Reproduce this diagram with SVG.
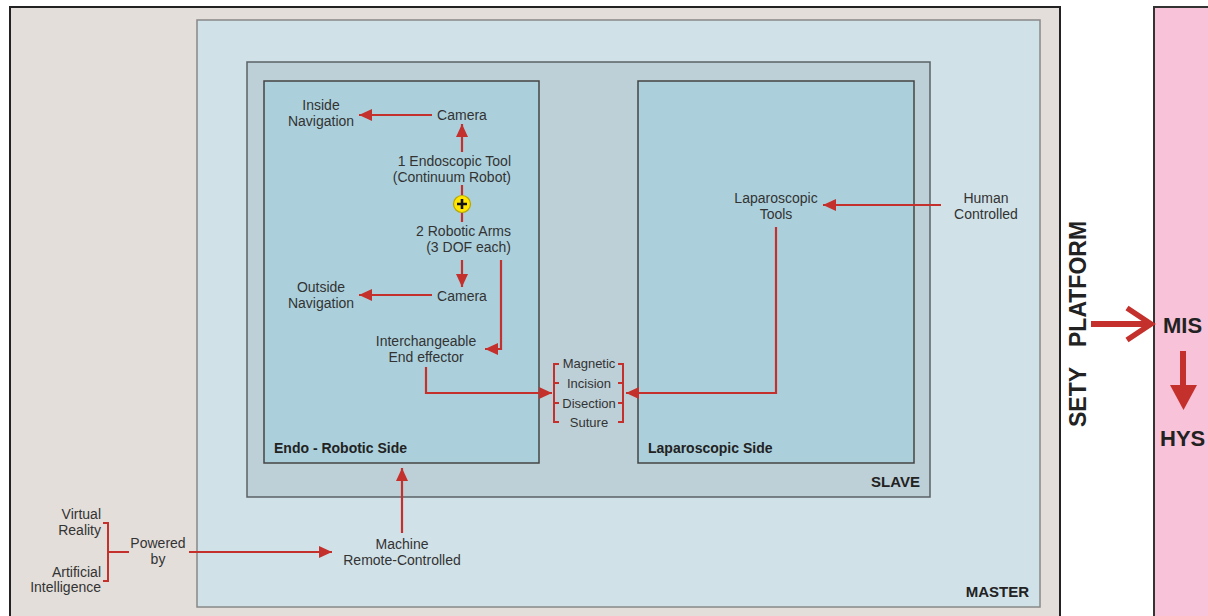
<svg xmlns="http://www.w3.org/2000/svg" width="1208" height="616" viewBox="0 0 1208 616">
<defs>
<style>
text{font-family:"Liberation Sans",Arial,sans-serif;fill:#333;font-size:14px}
.c{text-anchor:middle}
.e{text-anchor:end}
.b{font-weight:bold;fill:#222}
.s{font-size:13px}
.big{font-size:22px;font-weight:bold;fill:#222}
.ln{fill:none;stroke:#c4302b;stroke-width:2.2}
.br{fill:none;stroke:#c4302b;stroke-width:2}
</style>
<marker id="ah" markerUnits="userSpaceOnUse" markerWidth="14" markerHeight="12" refX="13" refY="6" orient="auto">
<path d="M0,0 L13,6 L0,12 z" fill="#c4302b"/>
</marker>
</defs>
<rect width="1208" height="616" fill="#ffffff"/>
<g id="outer">
<rect x="10" y="7" width="1050" height="620" fill="#e3deda" stroke="#222" stroke-width="2"/>
</g>
<g id="pink">
<rect x="1154" y="7" width="70" height="620" fill="#f8c2d9" stroke="#333" stroke-width="2"/>
</g>
<g id="master">
<rect x="197" y="20" width="843" height="587" fill="#d0e1e8" stroke="#888" stroke-width="1.5"/>
<text class="b e" x="1029" y="597" style="font-size:15px">MASTER</text>
</g>
<g id="slave">
<rect x="247" y="62" width="683" height="435" fill="#bdd0d7" stroke="#5a6266" stroke-width="1.5"/>
<text class="b e" x="920" y="487" style="font-size:15px">SLAVE</text>
</g>
<g id="endo-side">
<rect x="264" y="81" width="275" height="382" fill="#abd0dc" stroke="#444" stroke-width="1.5"/>
<text class="b" x="274" y="453">Endo - Robotic Side</text>
</g>
<g id="lap-side">
<rect x="638" y="81" width="276" height="382" fill="#abd0dc" stroke="#444" stroke-width="1.5"/>
<text class="b" x="648" y="453">Laparoscopic Side</text>
</g>
<g id="inside-nav"><text class="c" x="321" y="110">Inside</text><text class="c" x="321" y="126">Navigation</text></g>
<g id="camera1"><text class="c" x="462" y="120">Camera</text></g>
<g id="endo-tool"><text class="e" x="511" y="166">1 Endoscopic Tool</text><text class="e" x="511" y="182">(Continuum Robot)</text></g>
<g id="plus">
<circle cx="462" cy="204" r="8.5" fill="#ffe600" stroke="#b8a400" stroke-width="1.2"/>
<path d="M457,204 H467 M462,199 V209" stroke="#111" stroke-width="2.6"/>
</g>
<g id="robotic-arms"><text class="e" x="511" y="236">2 Robotic Arms</text><text class="e" x="511" y="252">(3 DOF each)</text></g>
<g id="camera2"><text class="c" x="462" y="301">Camera</text></g>
<g id="outside-nav"><text class="c" x="321" y="292">Outside</text><text class="c" x="321" y="308">Navigation</text></g>
<g id="end-effector"><text class="c" x="426" y="346">Interchangeable</text><text class="c" x="426" y="362">End effector</text></g>
<g id="operations">
<text class="c s" x="589" y="368">Magnetic</text>
<text class="c s" x="589" y="388">Incision</text>
<text class="c s" x="589" y="408">Disection</text>
<text class="c s" x="589" y="427">Suture</text>
<path class="br" d="M559,364 H554 V422 H559 M554,383 H559 M554,403 H559"/>
<path class="br" d="M618,364 H623 V422 H618 M623,383 H618 M623,403 H618"/>
</g>
<g id="lap-tools"><text class="c" x="776" y="203">Laparoscopic</text><text class="c" x="776" y="219">Tools</text></g>
<g id="human"><text class="c" x="986" y="203">Human</text><text class="c" x="986" y="219">Controlled</text></g>
<g id="machine"><text class="c" x="402" y="549">Machine</text><text class="c" x="402" y="565">Remote-Controlled</text></g>
<g id="powered"><text class="c" x="158" y="548">Powered</text><text class="c" x="158" y="564">by</text></g>
<g id="vr"><text class="e" x="101" y="519">Virtual</text><text class="e" x="101" y="535">Reality</text></g>
<g id="ai"><text class="e" x="101" y="577">Artificial</text><text class="e" x="101" y="592">Intelligence</text></g>
<g id="sety">
<text class="big" transform="translate(1086,324) rotate(-90)" text-anchor="middle" word-spacing="14" style="font-size:23px">SETY PLATFORM</text>
</g>
<g id="mis"><text class="big" x="1163" y="333">MIS</text></g>
<g id="hys"><text class="big" x="1160" y="446">HYS</text></g>
<g id="connectors">
<line class="ln" x1="432" y1="115" x2="359" y2="115" marker-end="url(#ah)"/>
<line class="ln" x1="462" y1="152" x2="462" y2="124" marker-end="url(#ah)"/>
<line class="ln" x1="462" y1="185" x2="462" y2="195"/>
<line class="ln" x1="462" y1="213" x2="462" y2="222"/>
<line class="ln" x1="462" y1="260" x2="462" y2="287" marker-end="url(#ah)"/>
<line class="ln" x1="432" y1="295" x2="359" y2="295" marker-end="url(#ah)"/>
<polyline class="ln" points="501,260 501,349 485,349" marker-end="url(#ah)"/>
<polyline class="ln" points="426,367 426,393 552,393" marker-end="url(#ah)"/>
<polyline class="ln" points="776,227 776,393 626,393" marker-end="url(#ah)"/>
<line class="ln" x1="941" y1="205" x2="823" y2="205" marker-end="url(#ah)"/>
<line class="ln" x1="402" y1="533" x2="402" y2="468" marker-end="url(#ah)"/>
<line class="ln" x1="189" y1="552" x2="332" y2="552" marker-end="url(#ah)"/>
<path class="br" d="M103,523 H108 V581 H103 M108,552 H129"/>
<line x1="1091" y1="324" x2="1150" y2="324" stroke="#c4302b" stroke-width="6"/>
<polyline points="1127,308 1151,324 1127,340" fill="none" stroke="#c4302b" stroke-width="5.5"/>
<line x1="1183" y1="351" x2="1183" y2="388" stroke="#c4302b" stroke-width="6"/>
<path d="M1170,385 L1197,385 L1183.5,410 z" fill="#c4302b"/>
</g>
</svg>
